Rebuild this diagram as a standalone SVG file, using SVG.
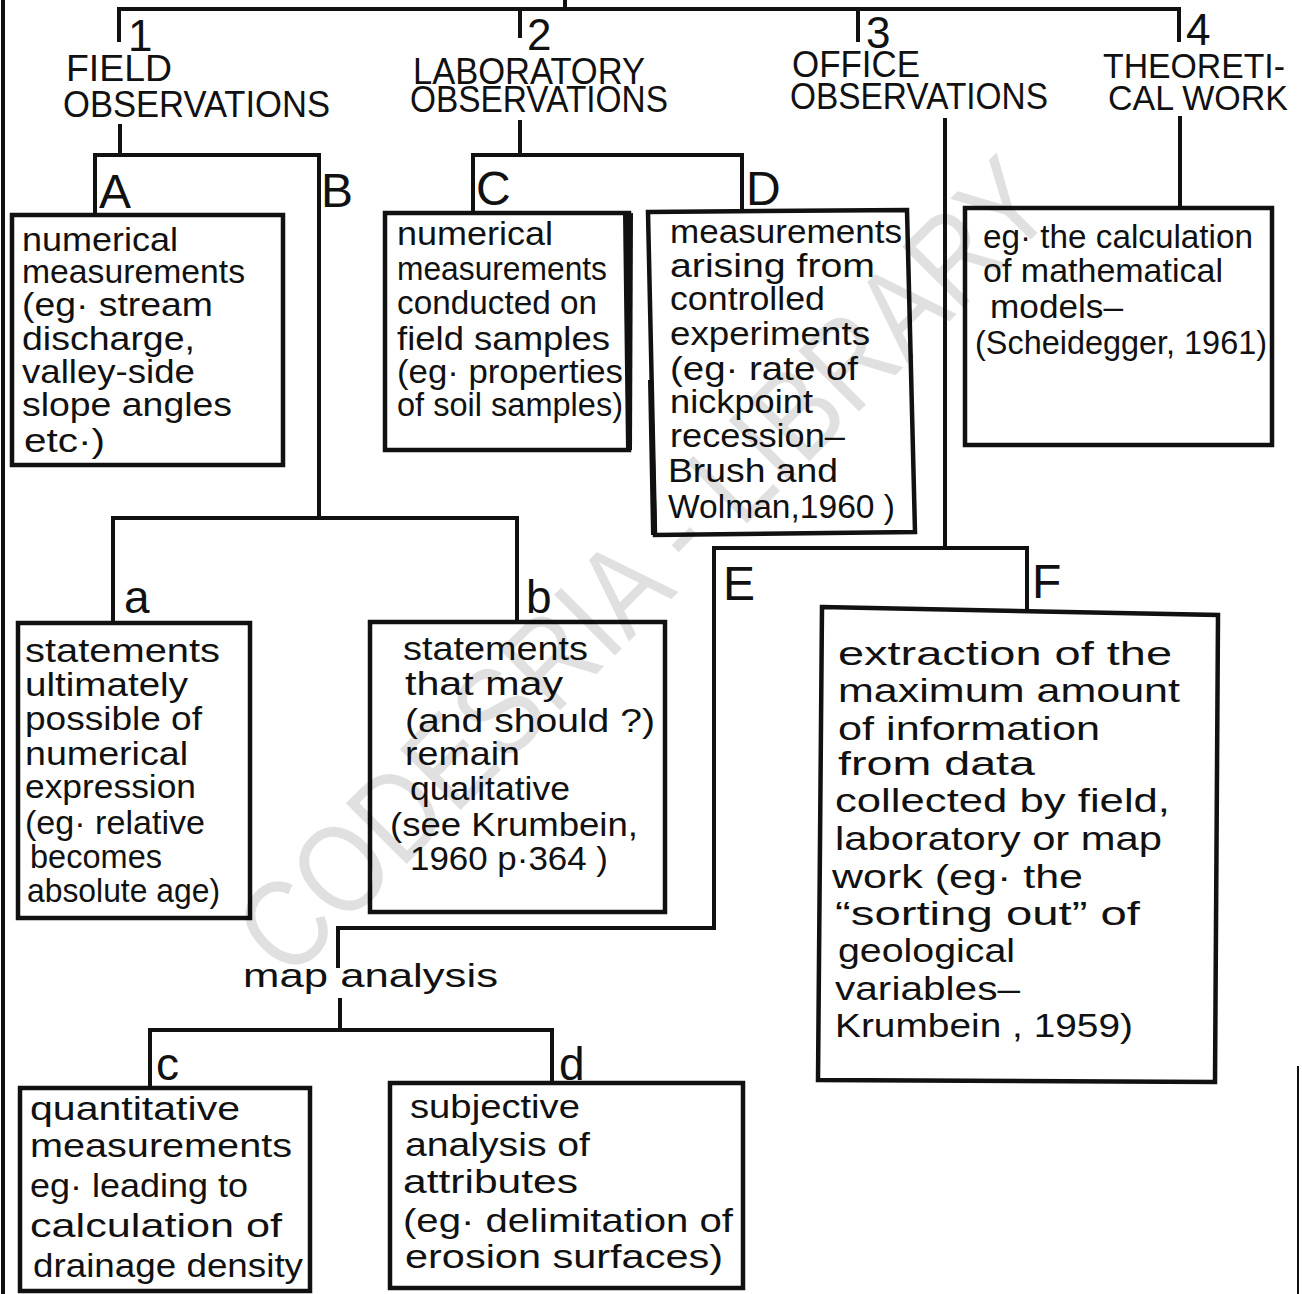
<svg xmlns="http://www.w3.org/2000/svg" width="1302" height="1294" viewBox="0 0 1302 1294">
<style>
text{font-family:"Liberation Sans","DejaVu Sans",Arial,sans-serif;fill:#111;}
.h{font-size:37px;}
.h2{font-size:35px;}
.n{font-size:44px;}
.L{font-size:48px;}
.l{font-size:46px;}
.t{font-size:33px;}
.f{font-size:33px;}
.box{fill:#fff;stroke:#111;stroke-width:4.5;}
.con{fill:none;stroke:#111;stroke-width:4;stroke-linecap:square;stroke-linejoin:miter;}
.thin{fill:none;stroke:#111;stroke-width:2;}
.wm{font-size:125px;fill:#000;fill-opacity:0.12;}
</style>
<rect width="1302" height="1294" fill="#fff"/>

<g id="connectors">
<path class="con" d="M3,0 V1294"/>
<path class="thin" d="M1298,1066 V1294"/>
<path class="con" d="M565,0 V9"/>
<path class="con" d="M119,40 V9 H1179 V40"/>
<path class="con" d="M520,9 V36"/>
<path class="con" d="M858,9 V40"/>
<path class="con" d="M120,126 V155"/>
<path class="con" d="M95,214 V155 H319 V518"/>
<path class="con" d="M113,622 V518 H517 V622"/>
<path class="con" d="M520,122 V155"/>
<path class="con" d="M473,213 V155 H742 V210"/>
<path class="con" d="M945,120 V548"/>
<path class="con" d="M1027,610 V548 H714 V928 H338 V966"/>
<path class="con" d="M340,1000 V1030"/>
<path class="con" d="M150,1088 V1030 H552 V1084"/>
<path class="con" d="M1180,118 V208"/>
</g>

<g id="node-top-labels">
<text class="n" x="128" y="51">1</text>
<text class="n" x="527" y="50">2</text>
<text class="n" x="866" y="48">3</text>
<text class="n" x="1186" y="45">4</text>
</g>

<g id="node-field">
<text class="h" x="66" y="81" textLength="106" lengthAdjust="spacingAndGlyphs">FIELD</text>
<text class="h" x="63" y="117" textLength="267" lengthAdjust="spacingAndGlyphs">OBSERVATIONS</text>
</g>

<g id="node-laboratory">
<text class="h" x="413" y="84" textLength="232" lengthAdjust="spacingAndGlyphs">LABORATORY</text>
<text class="h" x="410" y="112" textLength="258" lengthAdjust="spacingAndGlyphs">OBSERVATIONS</text>
</g>

<g id="node-office">
<text class="h" x="792" y="77" textLength="128" lengthAdjust="spacingAndGlyphs">OFFICE</text>
<text class="h" x="790" y="109" textLength="258" lengthAdjust="spacingAndGlyphs">OBSERVATIONS</text>
</g>

<g id="node-theoretical">
<text class="h2" x="1103" y="78" textLength="182" lengthAdjust="spacingAndGlyphs">THEORETI-</text>
<text class="h2" x="1108" y="110" textLength="180" lengthAdjust="spacingAndGlyphs">CAL WORK</text>
</g>

<g id="node-A">
<text class="L" x="99" y="208">A</text>
<rect class="box" x="12" y="215" width="271" height="250"/>
<text class="t" x="22" y="251" textLength="156" lengthAdjust="spacingAndGlyphs">numerical</text>
<text class="t" x="22" y="283" textLength="223" lengthAdjust="spacingAndGlyphs">measurements</text>
<text class="t" x="22" y="316" textLength="191" lengthAdjust="spacingAndGlyphs">(eg· stream</text>
<text class="t" x="22" y="350" textLength="173" lengthAdjust="spacingAndGlyphs">discharge,</text>
<text class="t" x="22" y="383" textLength="173" lengthAdjust="spacingAndGlyphs">valley-side</text>
<text class="t" x="22" y="416" textLength="210" lengthAdjust="spacingAndGlyphs">slope angles</text>
<text class="t" x="24" y="452" textLength="81" lengthAdjust="spacingAndGlyphs">etc·)</text>
</g>

<g id="node-B">
<text class="L" x="321" y="207">B</text>
</g>

<g id="node-C">
<text class="L" x="476" y="205">C</text>
<rect class="box" x="385" y="213" width="244" height="237"/>
<path d="M623,214 L633,213 L632,450 L626,450 Z" fill="#111"/>
<text class="t" x="397" y="245" textLength="156" lengthAdjust="spacingAndGlyphs">numerical</text>
<text class="t" x="397" y="280" textLength="210" lengthAdjust="spacingAndGlyphs">measurements</text>
<text class="t" x="397" y="314" textLength="200" lengthAdjust="spacingAndGlyphs">conducted on</text>
<text class="t" x="397" y="350" textLength="213" lengthAdjust="spacingAndGlyphs">field samples</text>
<text class="t" x="397" y="383" textLength="226" lengthAdjust="spacingAndGlyphs">(eg· properties</text>
<text class="t" x="397" y="416" textLength="226" lengthAdjust="spacingAndGlyphs">of soil samples)</text>
</g>

<g id="node-D">
<text class="L" x="746" y="205">D</text>
<polygon class="box" points="648,212 907,210 915,532 655,535"/>
<path d="M648,380 L653,380 L657,535 L651,535 Z" fill="#111"/>
<text class="t" x="670" y="243" textLength="232" lengthAdjust="spacingAndGlyphs">measurements</text>
<text class="t" x="670" y="277" textLength="205" lengthAdjust="spacingAndGlyphs">arising from</text>
<text class="t" x="670" y="310" textLength="155" lengthAdjust="spacingAndGlyphs">controlled</text>
<text class="t" x="670" y="345" textLength="200" lengthAdjust="spacingAndGlyphs">experiments</text>
<text class="t" x="670" y="380" textLength="188" lengthAdjust="spacingAndGlyphs">(eg· rate of</text>
<text class="t" x="670" y="413" textLength="143" lengthAdjust="spacingAndGlyphs">nickpoint</text>
<text class="t" x="670" y="447" textLength="175" lengthAdjust="spacingAndGlyphs">recession–</text>
<text class="t" x="668" y="482" textLength="170" lengthAdjust="spacingAndGlyphs">Brush and</text>
<text class="t" x="668" y="518" textLength="227" lengthAdjust="spacingAndGlyphs">Wolman,1960 )</text>
</g>

<g id="node-theory-box">
<rect class="box" x="965" y="208" width="307" height="237"/>
<text class="t" x="983" y="248" textLength="270" lengthAdjust="spacingAndGlyphs">eg· the calculation</text>
<text class="t" x="983" y="282" textLength="240" lengthAdjust="spacingAndGlyphs">of mathematical</text>
<text class="t" x="990" y="318" textLength="133" lengthAdjust="spacingAndGlyphs">models–</text>
<text class="t" x="975" y="354" textLength="292" lengthAdjust="spacingAndGlyphs">(Scheidegger, 1961)</text>
</g>

<g id="node-a">
<text class="l" x="124" y="613">a</text>
<rect class="box" x="18" y="623" width="232" height="295"/>
<text class="t" x="25" y="662" textLength="195" lengthAdjust="spacingAndGlyphs">statements</text>
<text class="t" x="25" y="696" textLength="163" lengthAdjust="spacingAndGlyphs">ultimately</text>
<text class="t" x="25" y="730" textLength="177" lengthAdjust="spacingAndGlyphs">possible of</text>
<text class="t" x="25" y="765" textLength="163" lengthAdjust="spacingAndGlyphs">numerical</text>
<text class="t" x="25" y="798" textLength="171" lengthAdjust="spacingAndGlyphs">expression</text>
<text class="t" x="25" y="834" textLength="180" lengthAdjust="spacingAndGlyphs">(eg· relative</text>
<text class="t" x="30" y="868" textLength="132" lengthAdjust="spacingAndGlyphs">becomes</text>
<text class="t" x="27" y="902" textLength="193" lengthAdjust="spacingAndGlyphs">absolute age)</text>
</g>

<g id="node-b">
<text class="l" x="526" y="613">b</text>
<rect class="box" x="370" y="622" width="295" height="290"/>
<text class="t" x="403" y="660" textLength="185" lengthAdjust="spacingAndGlyphs">statements</text>
<text class="t" x="405" y="695" textLength="158" lengthAdjust="spacingAndGlyphs">that may</text>
<text class="t" x="405" y="732" textLength="250" lengthAdjust="spacingAndGlyphs">(and should ?)</text>
<text class="t" x="405" y="765" textLength="115" lengthAdjust="spacingAndGlyphs">remain</text>
<text class="t" x="410" y="800" textLength="160" lengthAdjust="spacingAndGlyphs">qualitative</text>
<text class="t" x="390" y="836" textLength="248" lengthAdjust="spacingAndGlyphs">(see Krumbein,</text>
<text class="t" x="410" y="870" textLength="198" lengthAdjust="spacingAndGlyphs">1960 p·364 )</text>
</g>

<g id="node-E">
<text class="L" x="723" y="600">E</text>
</g>

<g id="node-F">
<text class="L" x="1032" y="598">F</text>
<polygon class="box" points="822,607 1218,615 1215,1082 818,1080"/>
<text class="f" x="838" y="665" textLength="334" lengthAdjust="spacingAndGlyphs">extraction  of  the</text>
<text class="f" x="838" y="702" textLength="342" lengthAdjust="spacingAndGlyphs">maximum  amount</text>
<text class="f" x="838" y="740" textLength="262" lengthAdjust="spacingAndGlyphs">of  information</text>
<text class="f" x="838" y="775" textLength="197" lengthAdjust="spacingAndGlyphs">from  data</text>
<text class="f" x="835" y="812" textLength="335" lengthAdjust="spacingAndGlyphs">collected by field,</text>
<text class="f" x="835" y="850" textLength="327" lengthAdjust="spacingAndGlyphs">laboratory or  map</text>
<text class="f" x="832" y="888" textLength="251" lengthAdjust="spacingAndGlyphs">work  (eg· the</text>
<text class="f" x="835" y="925" textLength="305" lengthAdjust="spacingAndGlyphs">“sorting  out” of</text>
<text class="f" x="838" y="962" textLength="177" lengthAdjust="spacingAndGlyphs">geological</text>
<text class="f" x="835" y="1000" textLength="185" lengthAdjust="spacingAndGlyphs">variables–</text>
<text class="f" x="835" y="1037" textLength="298" lengthAdjust="spacingAndGlyphs">Krumbein , 1959)</text>
</g>

<g id="node-map-analysis">
<text class="t" x="243" y="987" textLength="255" lengthAdjust="spacingAndGlyphs">map  analysis</text>
</g>

<g id="node-c">
<text class="l" x="156" y="1080">c</text>
<rect class="box" x="20" y="1088" width="290" height="203"/>
<text class="t" x="30" y="1120" textLength="210" lengthAdjust="spacingAndGlyphs">quantitative</text>
<text class="t" x="30" y="1157" textLength="262" lengthAdjust="spacingAndGlyphs">measurements</text>
<text class="t" x="30" y="1197" textLength="218" lengthAdjust="spacingAndGlyphs">eg· leading to</text>
<text class="t" x="30" y="1237" textLength="252" lengthAdjust="spacingAndGlyphs">calculation of</text>
<text class="t" x="33" y="1277" textLength="270" lengthAdjust="spacingAndGlyphs">drainage density</text>
</g>

<g id="node-d">
<text class="l" x="559" y="1080">d</text>
<rect class="box" x="390" y="1083" width="353" height="205"/>
<text class="t" x="410" y="1118" textLength="170" lengthAdjust="spacingAndGlyphs">subjective</text>
<text class="t" x="405" y="1156" textLength="185" lengthAdjust="spacingAndGlyphs">analysis of</text>
<text class="t" x="403" y="1193" textLength="175" lengthAdjust="spacingAndGlyphs">attributes</text>
<text class="t" x="403" y="1232" textLength="330" lengthAdjust="spacingAndGlyphs">(eg· delimitation of</text>
<text class="t" x="405" y="1268" textLength="318" lengthAdjust="spacingAndGlyphs">erosion surfaces)</text>
</g>

<g id="watermark">
<text class="wm" transform="translate(642,565) rotate(-45)" x="0" y="45" text-anchor="middle" textLength="1090" lengthAdjust="spacingAndGlyphs">CODESRIA - LIBRARY</text>
</g>
</svg>
